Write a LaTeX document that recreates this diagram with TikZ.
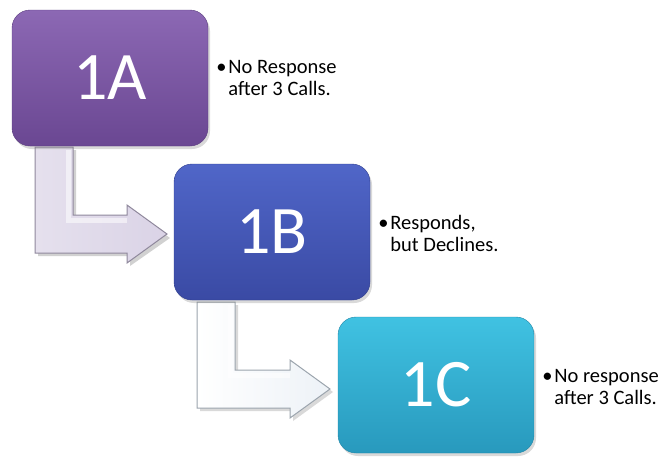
\documentclass[tikz,border=0pt]{standalone}
\usepackage{fontspec}
\setmainfont{Carlito}
\usetikzlibrary{shadows}

\definecolor{aTop}{HTML}{8C68B4}
\definecolor{aBot}{HTML}{6A4792}
\definecolor{aRim}{HTML}{5A3C7E}
\definecolor{bTop}{HTML}{5066C8}
\definecolor{bBot}{HTML}{3A4AA4}
\definecolor{bRim}{HTML}{2F3D8C}
\definecolor{cTop}{HTML}{40C2E2}
\definecolor{cBot}{HTML}{2899BD}
\definecolor{cRim}{HTML}{1F85A6}
\definecolor{arrOneFill}{HTML}{DAD3E6}
\definecolor{arrOneEdge}{HTML}{8F889C}
\definecolor{arrTwoFill}{HTML}{EDF2F7}
\definecolor{arrTwoEdge}{HTML}{9BA4AD}

\begin{document}
\begin{tikzpicture}[x=1pt,y=-1pt,
  stage/.style={rounded corners=18pt, minimum width=196pt, minimum height=136pt,
    inner sep=0pt, text=white, font=\fontsize{68}{68}\selectfont,
    drop shadow={shadow xshift=2pt, shadow yshift=-3pt, opacity=0.3}},
  note/.style={anchor=base west, inner sep=0pt, text=black,
    font=\fontsize{20.5}{22.5}\selectfont},
  elbowarrow/.style={line width=1pt, line join=miter},
  gloss/.style={white, line width=5pt, opacity=0.55}
]
\useasboundingbox (0,0) rectangle (661,456);

% bent arrow from 1A to 1B
\fill[black, opacity=0.18] (38,150) -- (76,150) -- (76,218) -- (130,218) -- (130,208)
  -- (170,238) -- (130,266) -- (130,256) -- (38,256) -- cycle;
\draw[elbowarrow, draw=arrOneEdge, left color=arrOneFill!70!white, right color=arrOneFill]
  (35,147) -- (73,147) -- (73,215) -- (127,215) -- (127,205)
  -- (167,234) -- (127,263) -- (127,253) -- (35,253) -- cycle;
\draw[gloss] (68,150) -- (68,220) -- (127,220);

% bent arrow from 1B to 1C
\fill[black, opacity=0.15] (200,305) -- (238,305) -- (238,373) -- (293,373) -- (293,363)
  -- (333,392) -- (293,421) -- (293,411) -- (200,411) -- cycle;
\draw[elbowarrow, draw=arrTwoEdge, left color=white, right color=arrTwoFill]
  (197,302) -- (235,302) -- (235,370) -- (290,370) -- (290,360)
  -- (330,389) -- (290,418) -- (290,408) -- (197,408) -- cycle;
\draw[gloss] (230,305) -- (230,375) -- (290,375);

% stage boxes
\node[stage, top color=aTop, bottom color=aBot, draw=aRim] (a) at (110,78) {1A};
\node[stage, top color=bTop, bottom color=bBot, draw=bRim] (b) at (272,232) {1B};
\node[stage, top color=cTop, bottom color=cBot, draw=cRim] (c) at (436,385) {1C};

% notes beside the boxes
\node[note] (na) at ([xshift=8pt,yshift=5pt]a.east)
  {\begin{tabular}[t]{@{}p{12pt}@{}l@{}}\textbullet & No Response\\ & after 3 Calls.\end{tabular}};
\node[note] (nb) at ([xshift=8pt,yshift=3pt]b.east)
  {\begin{tabular}[t]{@{}p{12pt}@{}l@{}}\textbullet & Responds,\\ & but Declines.\end{tabular}};
\node[note] (nc) at ([xshift=8pt,yshift=3pt]c.east)
  {\begin{tabular}[t]{@{}p{12pt}@{}l@{}}\textbullet & No response\\ & after 3 Calls.\end{tabular}};
\end{tikzpicture}
\end{document}
